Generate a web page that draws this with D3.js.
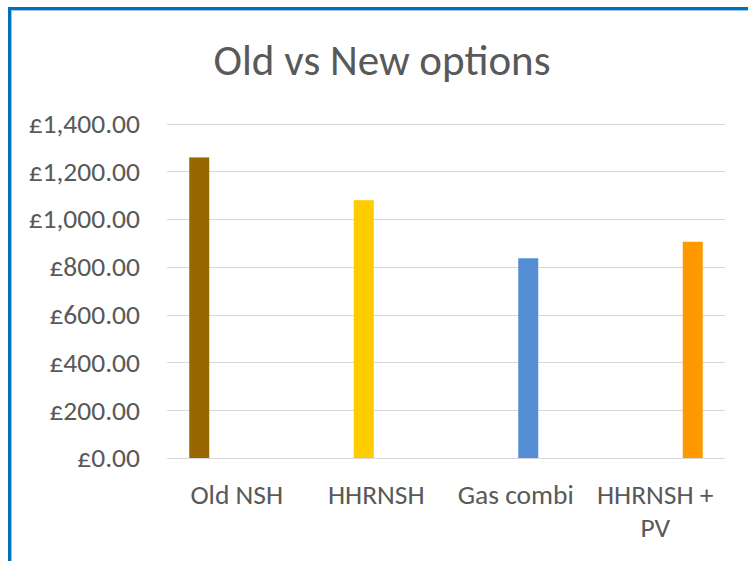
<!DOCTYPE html>
<html>
<head>
<meta charset="utf-8">
<script src="https://d3js.org/d3.v7.min.js"></script>
<style>
body{margin:0;background:#fff;}
svg text{font-family:Carlito,Lato,"Open Sans",sans-serif;fill:#595959;}
.grid line{stroke:#d9d9d9;stroke-width:1;}
</style>
</head>
<body>
<div id="chart"></div>
<script>
// chart data
var categories=["Old NSH","HHRNSH","Gas combi","HHRNSH + PV"];
var series=["Old NSH","HHRNSH","Gas combi","HHRNSH + PV"];
var values=[1258,1079,836,905];
var colours=["#996600","#ffcc00","#558ed5","#ff9900"];
var yTicks=[0,200,400,600,800,1000,1200,1400];
var title="Old vs New options";

var W=748,H=561;
var padL=167,padR=725,padT=123.5,padB=458;

var svg=d3.select("#chart").append("svg").attr("width",W).attr("height",H);

// frame
svg.append("rect").attr("x",9.5).attr("y",8.5).attr("width",W).attr("height",H)
	.attr("fill","none").attr("stroke","#0070c0").attr("stroke-width",3);
svg.append("rect").attr("x",11.5).attr("y",10.5).attr("width",W).attr("height",H)
	.attr("fill","none").attr("stroke","#9dc3e6").attr("stroke-width",1);

var x0=d3.scaleBand().domain(categories).range([padL,padR]);
var x1=d3.scaleBand().domain(series).range([0,x0.bandwidth()]).paddingInner(0.2).paddingOuter(0.89);
var y=d3.scaleLinear().domain([0,1400]).range([padB,padT]);

//gridlines
svg.append("g").attr("class","grid")
	.selectAll("line").data(yTicks).enter().append("line")
	.attr("x1",padL).attr("x2",padR)
	.attr("y1",function(d){return Math.round(y(d))+0.5;})
	.attr("y2",function(d){return Math.round(y(d))+0.5;});

//y axis
var fmt=d3.format(",.2f");
var yAxis=d3.axisLeft(y).tickValues(yTicks).tickSize(0).tickPadding(0)
	.tickFormat(function(d){return "£"+fmt(d);});
var gy=svg.append("g").attr("transform","translate(140,0)").call(yAxis);
gy.select(".domain").remove();
gy.attr("font-family",null).attr("font-size",null);
gy.selectAll("text").attr("font-size",27.5).attr("fill","#595959");

//bars, one series per category
svg.append("g").selectAll("rect").data(values).enter().append("rect")
	.attr("x",function(d,i){return x0(categories[i])+x1(series[i]);})
	.attr("width",x1.bandwidth())
	.attr("y",function(d){return y(d);})
	.attr("height",function(d){return y(0)-y(d);})
	.attr("fill",function(d,i){return colours[i];});

//x labels
var gx=svg.append("g");
categories.forEach(function(c,i){
	var cx=x0(c)+x0.bandwidth()/2;
	var lines=c=="HHRNSH + PV"?["HHRNSH +","PV"]:[c];
	lines.forEach(function(l,j){
		gx.append("text").attr("x",cx).attr("y",504+j*33)
			.attr("text-anchor","middle").attr("font-size",27.5).text(l);
	});
});

//title
svg.append("text").attr("x",382).attr("y",75).attr("text-anchor","middle")
	.attr("font-size",43).text(title);
</script>
</body>
</html>
